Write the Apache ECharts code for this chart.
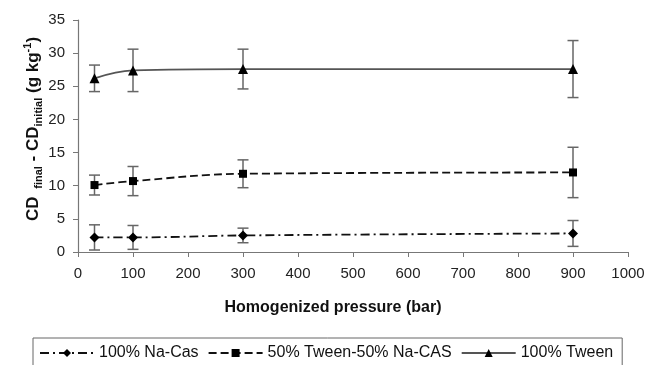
<!DOCTYPE html>
<html>
<head>
<meta charset="utf-8">
<script src="https://cdn.jsdelivr.net/npm/echarts@6/dist/echarts.min.js"></script>
<style>
  html, body { margin: 0; padding: 0; background: #fff; }
  #chart { width: 660px; height: 365px; }
</style>
</head>
<body>
<div id="chart"></div>
<script>
// 压力 (bar)
const pressure = [30, 100, 300, 900]
// 各配方 CD 差值与误差
const naCas = [2.2, 2.2, 2.5, 2.8]
const naCasErr = [1.9, 1.8, 1.1, 1.95]
const mix = [10.1, 10.7, 11.8, 12.0]
const mixErr = [1.5, 2.2, 2.1, 3.8]
const tween = [26.2, 27.4, 27.6, 27.6]
const tweenErr = [2.0, 3.2, 3.0, 4.3]
const seriesNames = ['100% Na-Cas', '50% Tween-50% Na-CAS', '100% Tween']

const font = 'Liberation Sans, Arial, sans-serif'

const pairs = (ys) => pressure.map((x, i) => [x, ys[i]])
const errRows = (ys, es) => pressure.map((x, i) => [x, ys[i] - es[i], ys[i] + es[i]])

// 误差棒
const errorBar = (name, ys, es) => ({
  name: name + '-err',
  type: 'custom',
  z: 1,
  silent: true,
  data: errRows(ys, es),
  renderItem: (params, api) => {
    const lo = api.coord([api.value(0), Math.max(api.value(1), 0)])
    const hi = api.coord([api.value(0), api.value(2)])
    const cap = 5.5
    const style = {stroke: '#666', lineWidth: 1.5}
    return {
      type: 'group',
      children: [
        {type: 'line', shape: {x1: lo[0], y1: lo[1], x2: hi[0], y2: hi[1]}, style},
        {type: 'line', shape: {x1: lo[0] - cap, y1: lo[1], x2: lo[0] + cap, y2: lo[1]}, style},
        {type: 'line', shape: {x1: hi[0] - cap, y1: hi[1], x2: hi[0] + cap, y2: hi[1]}, style},
      ]
    }
  }
})

const lineSeries = (name, ys, symbol, size, lineColor, dash) => ({
  name,
  type: 'line',
  z: 3,
  smooth: 0.4,
  data: pairs(ys),
  symbol,
  symbolSize: size,
  showSymbol: true,
  itemStyle: {color: '#000'},
  lineStyle: {color: lineColor, width: 1.8, type: dash},
})

const myChart = echarts.init(document.getElementById('chart'))
const option = {
  animation: false,
  backgroundColor: '#fff',
  textStyle: {fontFamily: font},
  grid: {left: 78, right: 32, top: 20, bottom: 113},
  legend: {
    data: seriesNames,
    left: 33,
    top: 338,
    padding: [7, 9, 14, 6],
    itemWidth: 54,
    itemHeight: 10,
    itemGap: 9,
    borderColor: '#666',
    borderWidth: 1,
    textStyle: {fontFamily: font, fontSize: 16, color: '#111'},
  },
  xAxis: {
    type: 'value',
    min: 0,
    max: 1000,
    interval: 100,
    name: 'Homogenized pressure (bar)',
    nameLocation: 'middle',
    nameGap: 48,
    nameTextStyle: {fontFamily: font, fontSize: 16, fontWeight: 'bold', color: '#111', padding: [0, 40, 0, 0]},
    axisLine: {lineStyle: {color: '#777', width: 1.2}},
    axisTick: {show: true, inside: false, length: 5, lineStyle: {color: '#777'}},
    axisLabel: {fontFamily: font, fontSize: 15, color: '#222', margin: 14, formatter: (v) => String(v)},
    splitLine: {show: false},
  },
  yAxis: {
    type: 'value',
    min: 0,
    max: 35,
    interval: 5,
    name: '{b|CD }{s| final}{b| - CD}{s|initial}{b| (g kg}{p|-1}{b|)}',
    nameLocation: 'middle',
    nameRotate: 90,
    nameGap: 34,
    nameMoveOverlap: false,
    nameTextStyle: {
      fontFamily: font,
      padding: [0, 0, 0, 14],
      rich: {
        b: {fontFamily: font, fontSize: 17, fontWeight: 'bold', color: '#111', lineHeight: 22},
        s: {fontFamily: font, fontSize: 11, fontWeight: 'bold', color: '#111', verticalAlign: 'bottom', lineHeight: 12},
        p: {fontFamily: font, fontSize: 11, fontWeight: 'bold', color: '#111', verticalAlign: 'top', lineHeight: 12},
      }
    },
    axisLine: {show: true, lineStyle: {color: '#777', width: 1.2}},
    axisTick: {show: true, inside: false, length: 5, lineStyle: {color: '#777'}},
    axisLabel: {fontFamily: font, fontSize: 15, color: '#222', margin: 13},
    splitLine: {show: false},
  },
  series: [
    errorBar(seriesNames[0], naCas, naCasErr),
    errorBar(seriesNames[1], mix, mixErr),
    errorBar(seriesNames[2], tween, tweenErr),
    lineSeries(seriesNames[0], naCas, 'diamond', 10, '#111', [9, 4, 2, 4]),
    lineSeries(seriesNames[1], mix, 'rect', 8, '#111', [8, 4]),
    lineSeries(seriesNames[2], tween, 'triangle', 10, '#555', 'solid'),
  ],
}
option && myChart.setOption(option)
</script>
</body>
</html>
